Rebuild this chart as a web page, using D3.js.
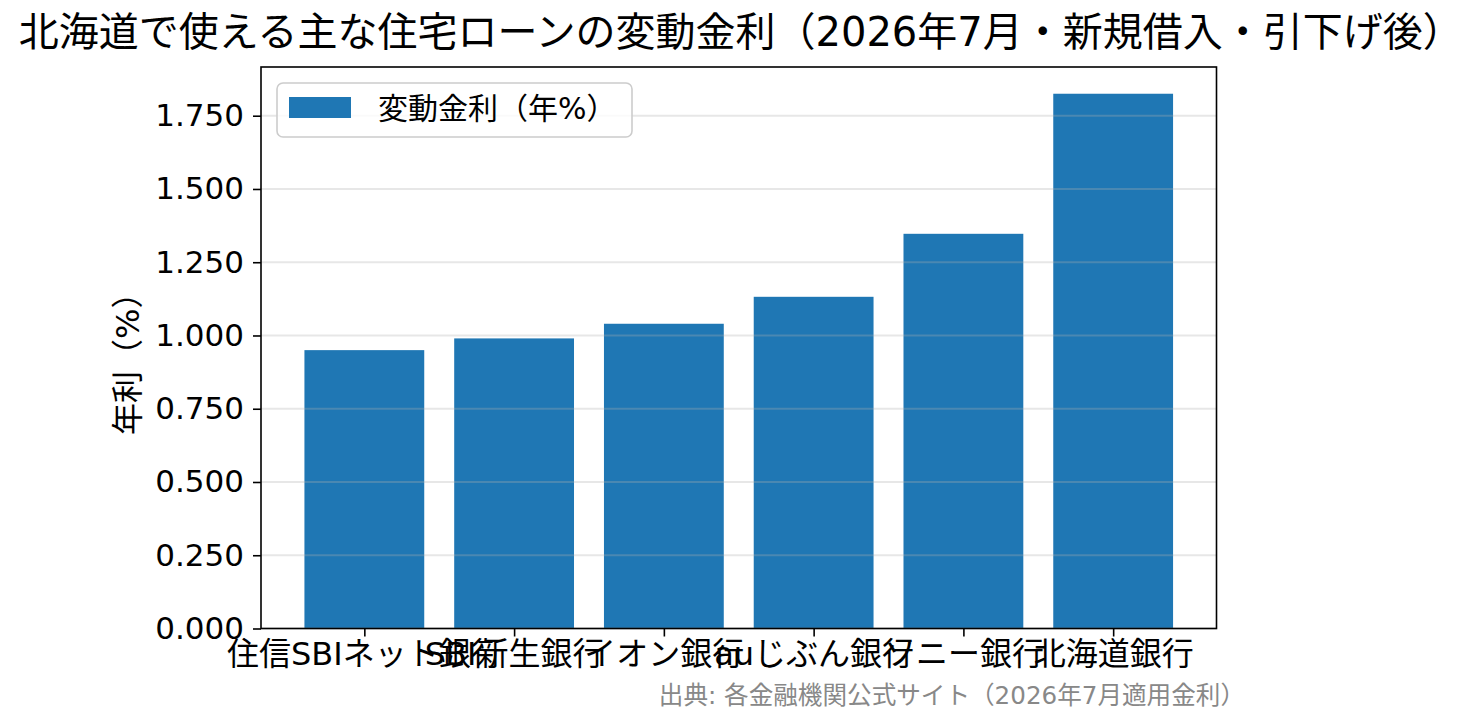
<!DOCTYPE html>
<html>
<head>
<meta charset="utf-8">
<script src="https://cdn.jsdelivr.net/npm/d3@7"></script>
<style>
  body { margin: 0; background: #fff; }
  text { font-family: "DejaVu Sans", "Noto Sans CJK JP", sans-serif; fill: #000; }
</style>
</head>
<body>
<div id="chart"></div>
<script>
// data
var banks = ["住信SBIネット銀行", "SBI新生銀行", "イオン銀行", "auじぶん銀行", "ソニー銀行", "北海道銀行"];
var rates = [0.95, 0.99, 1.04, 1.132, 1.347, 1.825];
var yTicks = [0, 0.25, 0.5, 0.75, 1.0, 1.25, 1.5, 1.75];

var width = 1478,
    height = 725,
    axLeft = 261, axRight = 1216.5, axTop = 67, axBottom = 628.5;

var svg = d3.select("#chart").append("svg")
    .attr("width", width)
    .attr("height", height);

// matplotlib-like limits: bars at integer positions, 5% margins
var x = d3.scaleLinear()
    .domain([-0.69, banks.length - 1 + 0.69])
    .range([axLeft, axRight]);

var y = d3.scaleLinear()
    .domain([0, d3.max(rates) * 1.05])
    .range([axBottom, axTop]);

// bars
svg.append("g").selectAll("rect")
    .data(rates)
  .enter().append("rect")
    .attr("x", function(d, i) { return x(i - 0.4); })
    .attr("width", function(d, i) { return x(i + 0.4) - x(i - 0.4); })
    .attr("y", function(d) { return y(d); })
    .attr("height", function(d) { return y(0) - y(d); })
    .attr("fill", "#1f77b4");

// grid on top of bars, semi transparent
svg.append("g").selectAll("line")
    .data(yTicks)
  .enter().append("line")
    .attr("x1", axLeft).attr("x2", axRight)
    .attr("y1", function(d) { return y(d); })
    .attr("y2", function(d) { return y(d); })
    .attr("stroke", "#b0b0b0")
    .attr("stroke-opacity", 0.3)
    .attr("stroke-width", 2);

// y axis
var yAxis = svg.append("g")
    .attr("transform", "translate(" + axLeft + ",0)")
    .call(d3.axisLeft(y).tickValues(yTicks).tickFormat(d3.format(".3f")).tickSize(8).tickPadding(9));
yAxis.select(".domain").remove();
yAxis.selectAll(".tick line").attr("stroke", "#000").attr("stroke-width", 1.6);
yAxis.selectAll(".tick text").attr("font-size", 31).attr("font-family", null);

// x axis
var xAxis = svg.append("g")
    .attr("transform", "translate(0," + axBottom + ")")
    .call(d3.axisBottom(x).tickValues(d3.range(banks.length)).tickFormat(function(i) { return banks[i]; }).tickSize(8).tickPadding(6));
xAxis.select(".domain").remove();
xAxis.selectAll(".tick line").attr("stroke", "#000").attr("stroke-width", 1.6);
xAxis.selectAll(".tick text").attr("font-size", 32).attr("font-family", null);

// frame
svg.append("rect")
    .attr("x", axLeft).attr("y", axTop)
    .attr("width", axRight - axLeft).attr("height", axBottom - axTop)
    .attr("fill", "none")
    .attr("stroke", "#000")
    .attr("stroke-width", 1.6);

// legend
var legend = svg.append("g");
legend.append("rect")
    .attr("x", 277).attr("y", 83)
    .attr("width", 355).attr("height", 54)
    .attr("rx", 6)
    .attr("fill", "#fff").attr("fill-opacity", 0.8)
    .attr("stroke", "#cccccc").attr("stroke-width", 1.6);
legend.append("rect")
    .attr("x", 289).attr("y", 97)
    .attr("width", 62).attr("height", 21)
    .attr("fill", "#1f77b4");
legend.append("text")
    .attr("x", 378).attr("y", 108)
    .attr("dy", "0.36em")
    .attr("font-size", 30)
    .text("変動金利（年%）");

// title
svg.append("text")
    .attr("x", (axLeft + axRight) / 2 + 2)
    .attr("y", 46)
    .attr("text-anchor", "middle")
    .attr("font-size", 40)
    .text("北海道で使える主な住宅ローンの変動金利（2026年7月・新規借入・引下げ後）");

// y label
svg.append("text")
    .attr("transform", "translate(139," + ((axTop + axBottom) / 2 + 8) + ") rotate(-90)")
    .attr("text-anchor", "middle")
    .attr("font-size", 32)
    .text("年利（%）");

// source note
svg.append("text")
    .attr("x", 1245)
    .attr("y", 704)
    .attr("text-anchor", "end")
    .attr("font-size", 24.6)
    .style("fill", "#888")
    .text("出典: 各金融機関公式サイト（2026年7月適用金利）");
</script>
</body>
</html>
